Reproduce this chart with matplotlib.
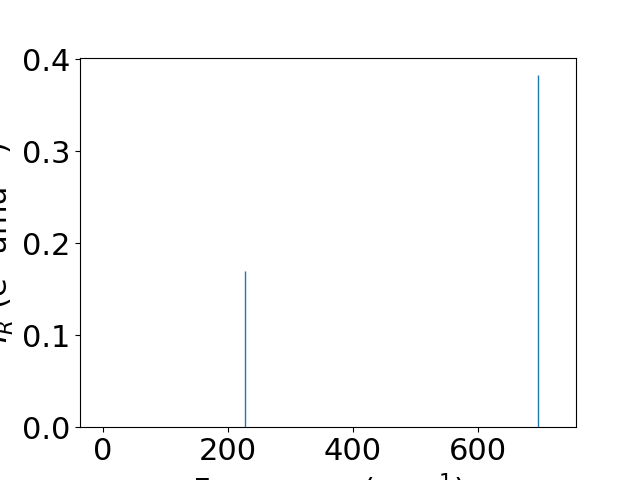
import matplotlib
matplotlib.use("Agg")
import matplotlib.pyplot as plt

freqs = [227.0, 696.0]
intensities = [0.1697, 0.3827]

plt.rcParams['font.size'] = 22
fig, ax = plt.subplots(figsize=(6.4, 4.8), dpi=100)
ax.vlines(freqs, 0, intensities, color='C0', linewidth=1)
ax.set_xlim(-37, 757)
ax.set_ylim(0, max(intensities) * 1.05)
ax.set_xticks([0, 200, 400, 600])
ax.set_yticks([0.0, 0.1, 0.2, 0.3, 0.4])
ax.set_xlabel('Frequency (cm$^{-1}$)')
ax.set_ylabel('$I_R$ (e$^2$ amu$^{-1}$)')
fig.savefig('out.png')
